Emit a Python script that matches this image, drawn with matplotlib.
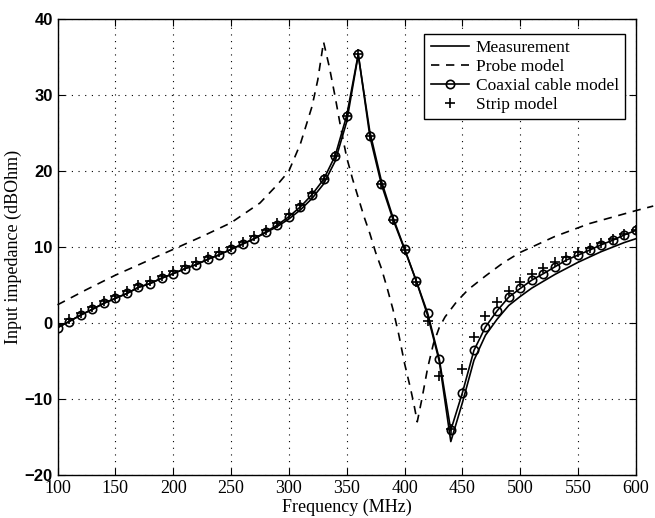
import numpy as np
import matplotlib
matplotlib.use("Agg")
import matplotlib.pyplot as plt

# frequency grid of the model curves (MHz)
freq = np.arange(100, 601, 10)

coax = [-0.6, 0.2, 1.05, 1.8, 2.6, 3.25, 3.9, 4.7, 5.2, 5.9,
        6.5, 7.15, 7.7, 8.4, 9.0, 9.7, 10.4, 11.1, 12.0, 12.9,
        14.0, 15.3, 16.9, 18.9, 22.0, 27.3, 35.4, 24.6, 18.25, 13.65,
        9.7, 5.6, 1.3, -4.7, -14.1, -9.2, -3.6, -0.5, 1.6, 3.4,
        4.55, 5.65, 6.5, 7.4, 8.3, 8.95, 9.6, 10.3, 10.9, 11.6,
        12.2]

strip = [-0.3, 0.5, 1.35, 2.1, 2.9, 3.55, 4.2, 5.0, 5.5, 6.2,
         6.8, 7.45, 8.0, 8.7, 9.3, 10.0, 10.7, 11.4, 12.3, 13.2,
         14.3, 15.5, 17.1, 19.0, 22.0, 27.3, 35.4, 24.6, 18.25, 13.6,
         9.6, 5.4, 0.3, -7.0, -14.0, -6.0, -1.8, 0.95, 2.8, 4.2,
         5.4, 6.5, 7.2, 8.1, 8.7, 9.3, 9.9, 10.5, 11.1, 11.7,
         12.3]

meas_f = [100, 110, 120, 130, 140, 150, 160, 170, 180, 190,
          200, 210, 220, 230, 240, 250, 260, 270, 280, 290,
          300, 310, 320, 330, 340, 350, 360, 370, 380, 390,
          400, 410, 420, 430, 440, 450, 460, 470, 480, 490,
          500, 510, 520, 530, 540, 550, 560, 570, 580, 590, 600]
meas = [-0.6, 0.2, 1.05, 1.8, 2.6, 3.25, 3.9, 4.7, 5.2, 5.9,
        6.5, 7.15, 7.7, 8.4, 9.0, 9.7, 10.4, 11.1, 11.9, 12.7,
        13.7, 14.9, 16.4, 18.3, 21.3, 26.5, 35.3, 25.2, 18.7, 13.9,
        9.8, 5.6, 1.0, -5.0, -15.6, -10.5, -4.9, -1.6, 0.5, 2.3,
        3.5, 4.6, 5.5, 6.4, 7.2, 8.0, 8.7, 9.4, 10.0, 10.6, 11.1]

probe_f = [100, 125, 150, 175, 200, 225, 250, 275, 290, 300,
           310, 320, 325, 330, 335, 340, 345, 350, 355, 360,
           365, 370, 375, 380, 385, 390, 395, 400, 405, 408,
           411, 415, 420, 425, 430, 435, 445, 455, 470, 485,
           500, 530, 560, 600, 615]
probe = [2.4, 4.4, 6.3, 8.0, 9.7, 11.4, 13.2, 15.8, 18.2, 20.0,
         23.6, 28.5, 32.0, 37.0, 33.7, 29.8, 25.6, 21.8, 19.0, 16.5,
         14.0, 11.8, 9.3, 7.2, 4.6, 1.8, -1.5, -5.3, -8.5, -10.6,
         -13.0, -10.0, -5.9, -2.7, -0.6, 0.8, 2.8, 4.4, 6.2, 7.9,
         9.3, 11.4, 13.1, 14.8, 15.4]

plt.rcParams['font.family'] = 'Liberation Serif'

fig = plt.figure(figsize=(6.55, 5.18), dpi=100)
ax = fig.add_axes([0.0878, 0.083, 0.883, 0.88])

ax.plot(meas_f, meas, '-', color='k', lw=1.2, label='Measurement')
ax.plot(probe_f, probe, '--', color='k', lw=1.2, dashes=(5, 4),
        clip_on=False, label='Probe model')
ax.plot(freq, coax, '-o', color='k', lw=1.2, ms=6, mfc='none', mew=1.2,
        label='Coaxial cable model')
ax.plot(freq, strip, '+', color='k', ms=7, mew=1.2, label='Strip model')

ax.set_xlim(100, 600)
ax.set_ylim(-20, 40)
ax.set_xticks(range(100, 601, 50))
ax.set_yticks(range(-20, 41, 10))
ax.grid(True, color='k', linestyle=(0, (1, 5)), linewidth=0.8)
ax.tick_params(direction='in', top=True, right=True, length=5, labelsize=13)
for lab in ax.get_yticklabels():
    lab.set_fontfamily('Liberation Sans')
    lab.set_fontweight('bold')
    lab.set_fontsize(12)
for s in ax.spines.values():
    s.set_linewidth(1.0)

ax.set_xlabel('Frequency (MHz)', fontsize=13, labelpad=1)
ax.set_ylabel('Input impedance (dBOhm)', fontsize=13, labelpad=2)

leg = ax.legend(loc='upper right', bbox_to_anchor=(0.981, 0.967), fontsize=12.5,
                handlelength=2.2, handletextpad=0.4, borderpad=0.35,
                borderaxespad=0, labelspacing=0.15, fancybox=False,
                framealpha=1)
leg.get_frame().set_edgecolor('k')
leg.get_frame().set_linewidth(1.0)

fig.savefig('out.png', dpi=100)
